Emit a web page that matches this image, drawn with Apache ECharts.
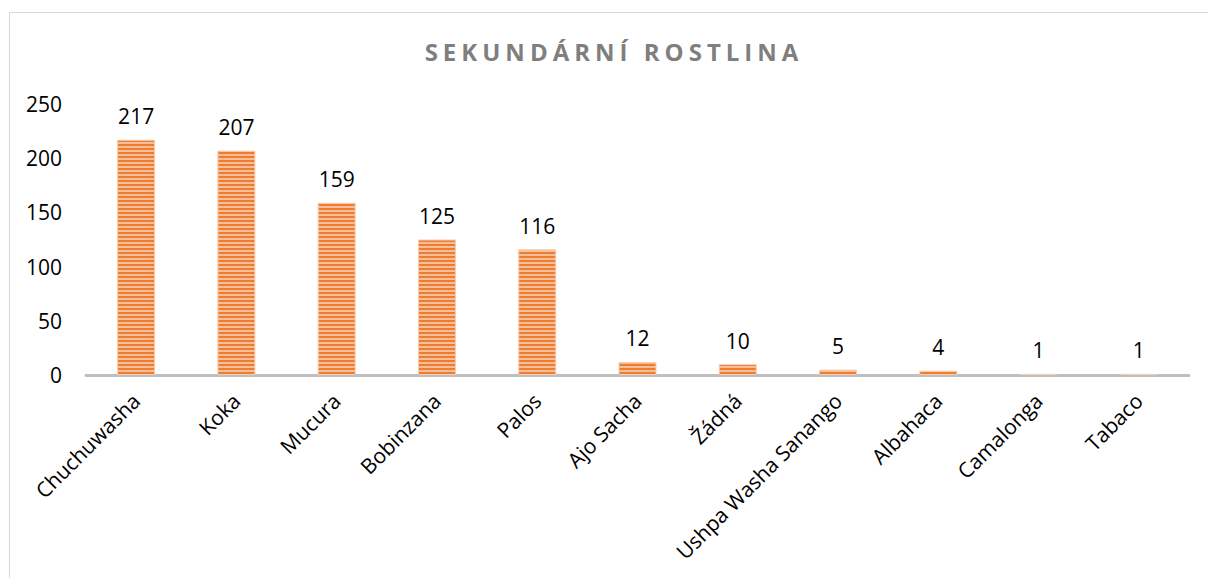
<!DOCTYPE html>
<html>
<head>
<meta charset="utf-8">
<script src="https://cdn.jsdelivr.net/npm/echarts@6/dist/echarts.min.js"></script>
<style>
  html, body { margin: 0; padding: 0; background: #fff; overflow: hidden; }
  #rostlina { width: 1208px; height: 578px; }
</style>
</head>
<body>
<div id="rostlina"></div>
<script>
const categories = ['Chuchuwasha', 'Koka', 'Mucura', 'Bobinzana', 'Palos', 'Ajo Sacha',
  'Žádná', 'Ushpa Washa Sanango', 'Albahaca', 'Camalonga', 'Tabaco'];
const counts = [217, 207, 159, 125, 116, 12, 10, 5, 4, 1, 1];
const titleText = 'SEKUNDÁRNÍ ROSTLINA';

// striped fill like the Excel pattern
function stripes() {
  const c = document.createElement('canvas');
  c.width = 4; c.height = 4;
  const ctx = c.getContext('2d');
  ctx.fillStyle = '#F6BE98';
  ctx.fillRect(0, 0, 4, 4);
  ctx.fillStyle = '#ED7D31';
  ctx.fillRect(0, 0, 4, 2);
  return c;
}

const myChart = echarts.init(document.getElementById('rostlina'), null, { renderer: 'svg' });
const font = '"Open Sans", sans-serif';

const option = {
  animation: false,
  backgroundColor: '#fff',
  title: {
    text: titleText,
    left: 614,
    top: 36,
    padding: 0,
    textAlign: 'center',
    textStyle: { fontFamily: font, fontSize: 24, fontWeight: 'bold', color: '#7f7f7f', lineHeight: 30 }
  },
  graphic: [{
    type: 'rect',
    shape: { x: 9.5, y: 12.5, width: 1400, height: 800 },
    style: { fill: null, stroke: '#d9d9d9', lineWidth: 1 },
    silent: true
  }],
  grid: { left: 86, right: 19, top: 104, bottom: 203 },
  xAxis: {
    type: 'category',
    data: categories,
    axisLine: { lineStyle: { color: '#bfbfbf', width: 3 } },
    axisTick: { show: false },
    axisLabel: {
      rotate: 45, margin: 22, interval: 0,
      fontFamily: font, fontSize: 21, color: '#000'
    }
  },
  yAxis: {
    type: 'value',
    min: 0, max: 250, interval: 50,
    splitLine: { show: false },
    axisLine: { show: false },
    axisTick: { show: false },
    axisLabel: { margin: 24, fontFamily: font, fontSize: 21, color: '#000' }
  },
  series: [{
    type: 'bar',
    data: counts,
    barWidth: 38,
    itemStyle: {
      color: { image: stripes(), repeat: 'repeat', imageWidth: 4, imageHeight: 4 },
      borderColor: '#F8CBAD',
      borderWidth: 1
    },
    label: {
      show: true, position: 'top', distance: 13,
      fontFamily: font, fontSize: 21, color: '#000'
    }
  }]
};

myChart.setOption(option);

// letter-spaced title, as in the original
function spaceTitle() {
  document.querySelectorAll('#rostlina text').forEach(function (t) {
    if (t.textContent === titleText) t.style.letterSpacing = '5px';
  });
}
spaceTitle();
myChart.on('finished', spaceTitle);
window.addEventListener('resize', function () { myChart.resize(); });
</script>
</body>
</html>
